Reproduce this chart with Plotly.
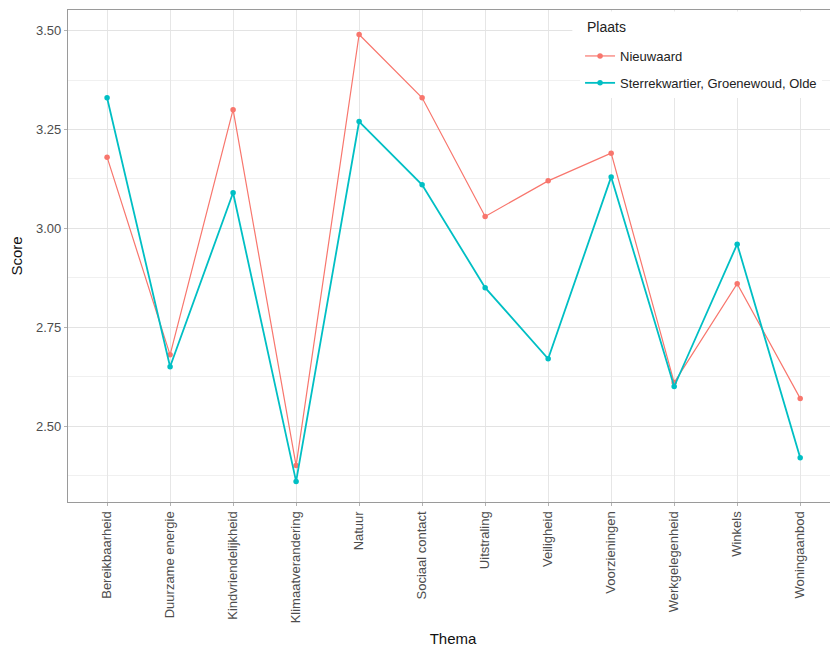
import plotly.graph_objects as go

themas = ["Bereikbaarheid", "Duurzame energie", "Kindvriendelijkheid", "Klimaatverandering",
          "Natuur", "Sociaal contact", "Uitstraling", "Veiligheid", "Voorzieningen",
          "Werkgelegenheid", "Winkels", "Woningaanbod"]
legend_title = "Plaats"
series_names = ["Nieuwaard", "Sterrekwartier, Groenewoud, Olde"]
scores_a = [3.18, 2.68, 3.30, 2.40, 3.49, 3.33, 3.03, 3.12, 3.19, 2.61, 2.86, 2.57]
scores_b = [3.33, 2.65, 3.09, 2.36, 3.27, 3.11, 2.85, 2.67, 3.13, 2.60, 2.96, 2.42]
y_ticks = [2.50, 2.75, 3.00, 3.25, 3.50]
colors = ["#F8766D", "#00BFC4"]

fig = go.Figure()
for i, (name, vals, col, w) in enumerate([(series_names[0], scores_a, colors[0], 1.2),
                                          (series_names[1], scores_b, colors[1], 1.8)]):
    fig.add_trace(go.Scatter(
        x=list(range(len(themas))), y=vals, name=name, mode="lines+markers",
        legendgroup=f"g{i}",
        line=dict(color=col, width=w), marker=dict(color=col, size=5.5),
    ))

# white backing for the legend block (title + entries)
fig.add_shape(type="rect", xref="paper", yref="paper", x0=0.655, x1=1.0, y0=0.86, y1=0.997,
              fillcolor="white", line=dict(width=0), layer="above")
fig.add_annotation(text=legend_title, xref="paper", yref="paper", x=0.671, y=0.965,
                   xanchor="left", yanchor="middle", showarrow=False,
                   font=dict(size=14, color="#222"))

fig.update_layout(
    width=830, height=640,
    margin=dict(l=60, r=0, t=2, b=146, autoexpand=False),
    paper_bgcolor="white", plot_bgcolor="white",
    font=dict(family="Liberation Sans, Arial, sans-serif", color="#4d4d4d", size=13),
    showlegend=True,
    legend=dict(
        x=0.665, y=0.937, xanchor="left", yanchor="top",
        bgcolor="white", borderwidth=0,
        font=dict(size=13, color="#222"),
        tracegroupgap=7, itemwidth=30,
    ),
)
fig.update_xaxes(
    range=[-0.62, 11.6], automargin=False,
    tickmode="array", tickvals=list(range(len(themas))), ticktext=themas,
    tickangle=-90, ticks="outside", ticklen=3, tickcolor="#b3b3b3",
    showgrid=True, gridcolor="#e6e6e6", gridwidth=1, zeroline=False,
    showline=True, mirror=True, linecolor="#9a9a9a", linewidth=1.3,
    title=dict(text="Thema", font=dict(size=15, color="#111"), standoff=11),
    tickfont=dict(size=13, color="#4d4d4d"),
)
fig.update_yaxes(
    range=[2.308, 3.552], automargin=False,
    tickmode="array", tickvals=y_ticks, ticktext=[f"{v:.2f}" for v in y_ticks],
    ticks="outside", ticklen=3, tickcolor="#b3b3b3",
    showgrid=True, gridcolor="#e3e3e3", gridwidth=1, zeroline=False,
    minor=dict(tick0=2.375, dtick=0.25, showgrid=True, gridcolor="#f0f0f0", gridwidth=0.8, ticks=""),
    showline=True, mirror=True, linecolor="#9a9a9a", linewidth=1.3,
    title=dict(text="Score", font=dict(size=15, color="#111"), standoff=10),
    tickfont=dict(size=13, color="#4d4d4d"),
)

fig.write_html("out.html")
